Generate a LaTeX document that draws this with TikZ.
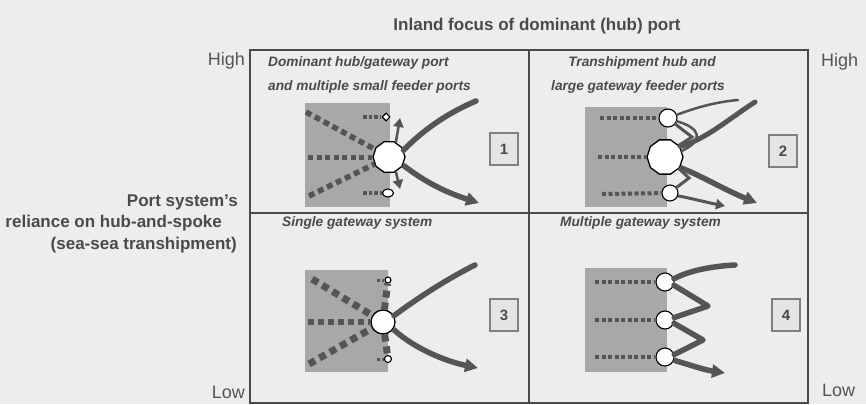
\documentclass[tikz,border=0pt]{standalone}
\usepackage{fontspec}
\setmainfont{Liberation Sans}
\usetikzlibrary{arrows.meta,shapes.geometric}

\definecolor{paper}{HTML}{EDEDED}
\definecolor{shade}{HTML}{A8A8A8}
\definecolor{ink}{HTML}{555555}
\definecolor{rule}{HTML}{4A4A4A}
\definecolor{tagfill}{HTML}{E4E4E4}

\tikzset{
  frame/.style={draw=rule, line width=1.5pt},
  hinterland/.style={fill=shade, draw=none},
  hub/.style={circle, draw=black, fill=white, line width=1.3pt, inner sep=0pt},
  port/.style={circle, draw=black, fill=white, line width=1.1pt, inner sep=0pt},
  spoke/.style={draw=ink, line width=4pt, dash pattern=on 4pt off 2.5pt},
  bigspoke/.style={draw=ink, line width=7pt, dash pattern=on 7pt off 5pt},
  flow/.style={draw=ink, line width=5.5pt, line cap=round},
  thinflow/.style={draw=ink, line width=2.5pt, line cap=round},
  head/.style={-{Triangle[length=13pt,width=13pt]}},
  smallhead/.style={-{Triangle[length=9pt,width=10pt]}},
  tag/.style={draw=gray, fill=tagfill, line width=1.5pt, minimum width=28pt,
    minimum height=32pt, inner sep=0pt, font=\fontsize{15}{15}\selectfont\bfseries, text=rule},
  heading/.style={font=\fontsize{13.7}{14}\selectfont\bfseries\itshape, text=rule, inner sep=0pt},
  scale label/.style={font=\fontsize{18}{18}\selectfont, text=ink, inner sep=0pt},
  axis label/.style={font=\fontsize{17}{17}\selectfont\bfseries, text=rule, inner sep=0pt},
}

\begin{document}
\begin{tikzpicture}[x=1pt,y=-1pt]
% canvas
\fill[paper] (0,0) rectangle (866,404);
\useasboundingbox (0,0) rectangle (866,404);

% axis titles
\node[font=\fontsize{17}{17}\selectfont\bfseries, text=rule, inner sep=0pt] (title) at (537,26) {Inland focus of dominant (hub) port};
\node[axis label, anchor=east] (ya) at (238,202) {Port system's};
\node[axis label, anchor=east] (yb) at (222,223) {reliance on hub-and-spoke};
\node[axis label, anchor=east] (yc) at (237,245) {(sea-sea transhipment)};
\node[scale label, anchor=east] (hl) at (245,61) {High};
\node[scale label, anchor=east] (ll) at (245,392) {Low};
\node[scale label, anchor=west] (hr) at (821,62) {High};
\node[scale label, anchor=west] (lr) at (822,390) {Low};

% hinterland areas
\fill[hinterland] (305,103) rectangle (390,207);
\fill[hinterland] (585,107) rectangle (667,207);
\fill[hinterland] (305,270) rectangle (388,372);
\fill[hinterland] (585,268) rectangle (667,372);

% panel headings
\node[heading, anchor=west] (t1a) at (268,63) {Dominant hub/gateway port};
\node[heading, anchor=west] (t1b) at (268,87) {and multiple small feeder ports};
\node[heading] (t2a) at (642,63) {Transhipment hub and};
\node[heading] (t2b) at (638,87) {large gateway feeder ports};
\node[heading, anchor=west] (t3) at (282,223) {Single gateway system};
\node[heading, anchor=west] (t4) at (560,223) {Multiple gateway system};

% ---------- panel 1: dominant hub with small feeders ----------
\node[regular polygon, regular polygon sides=10, draw=black, fill=white, line width=1.3pt, inner sep=0pt, minimum size=32pt] (h1) at (389,157) {};
\node[diamond, draw=black, fill=white, line width=1.1pt, inner sep=0pt, minimum size=8pt] (f1a) at (386,117) {};
\node[ellipse, draw=black, fill=white, line width=1.1pt, inner sep=0pt, minimum width=11pt, minimum height=8pt] (f1b) at (388,193) {};
\coordinate (s1a) at (306,112);
\coordinate (s1b) at (308,157);
\coordinate (s1c) at (309,196);
\coordinate (s1d) at (363,117);
\coordinate (s1e) at (363,193);
\draw[spoke, line width=5.5pt, dash pattern=on 6pt off 4pt] (s1a) -- (h1);
\draw[spoke, line width=5pt, dash pattern=on 5pt off 3.5pt] (s1b) -- (h1);
\draw[spoke, line width=5.5pt, dash pattern=on 6pt off 4pt] (s1c) -- (h1);
\draw[spoke, line width=3.5pt, dash pattern=on 3.5pt off 2pt] (s1d) -- (f1a);
\draw[spoke, line width=3.5pt, dash pattern=on 3.5pt off 2pt] (s1e) -- (f1b);
\coordinate (e1a) at (476,101);
\coordinate (e1b) at (479,203);
\coordinate (a1a) at (400,118);
\coordinate (a1b) at (400,189);
\draw[flow] (h1.25) .. controls (425,128) and (450,112) .. (e1a);
\draw[flow, head, line cap=butt] (h1.-30) .. controls (425,182) and (445,192) .. (e1b);
\draw[thinflow, smallhead, line cap=butt] (h1.65) -- (a1a);
\draw[thinflow, smallhead, line cap=butt] (h1.-65) -- (a1b);
\node[tag] (n1) at (504,149) {1};

% ---------- panel 2: transhipment hub with large feeders ----------
\node[regular polygon, regular polygon sides=10, draw=black, fill=white, line width=1.3pt, inner sep=0pt, minimum size=36pt] (h2) at (665,157) {};
\node[port, minimum width=18pt, minimum height=16pt] (f2a) at (668,118) {};
\node[port, minimum size=16pt] (f2c) at (670,193) {};
\coordinate (s2a) at (600,118);
\coordinate (s2b) at (598,157);
\coordinate (s2c) at (602,194);
\draw[spoke] (s2a) -- (f2a);
\draw[spoke] (s2b) -- (h2);
\draw[spoke] (s2c) -- (f2c);
\coordinate (e2a) at (738,100);
\coordinate (e2b) at (755,102);
\coordinate (e2c) at (757,203);
\coordinate (e2d) at (725,206);
\coordinate (k2a) at (692,137);
\coordinate (k2b) at (689,178);
\draw[thinflow] (f2a.20) .. controls (695,108) and (715,102) .. (e2a);
\draw[thinflow, line width=3pt] (f2a.-40) -- (k2a) -- (h2.40);
\draw[thinflow, line width=3pt] (h2.-40) -- (k2b) -- (f2c.40);
\draw[thinflow, line width=2.5pt] (f2a.-20) .. controls (700,128) and (705,140) .. (h2.20);
\draw[flow, line width=5pt] (h2.35) .. controls (705,140) and (730,118) .. (e2b);
\draw[flow, head, line cap=butt] (h2.-35) .. controls (700,175) and (725,190) .. (e2c);
\draw[thinflow, line width=3pt, smallhead, line cap=butt] (f2c.-20) .. controls (690,198) and (705,202) .. (e2d);
\node[tag] (n2) at (783,151) {2};

% ---------- panel 3: single gateway ----------
\node[hub, minimum size=24pt] (h3) at (383,322) {};
\node[port, minimum size=6pt] (f3a) at (388,280) {};
\node[port, minimum width=7pt, minimum height=5pt] (f3c) at (388,359) {};
\coordinate (s3a) at (312,279);
\coordinate (s3b) at (308,322);
\coordinate (s3c) at (309,364);
\coordinate (s3d) at (377,280);
\coordinate (s3e) at (377,359);
\draw[bigspoke] (s3a) -- (h3);
\draw[bigspoke, line width=6pt, dash pattern=on 6pt off 4pt] (s3b) -- (h3);
\draw[bigspoke] (s3c) -- (h3);
\draw[bigspoke] (h3) -- (f3a);
\draw[bigspoke] (h3) -- (f3c);
\draw[spoke, line width=3pt, dash pattern=on 3pt off 2pt] (s3d) -- (f3a);
\draw[spoke, line width=3pt, dash pattern=on 3pt off 2pt] (s3e) -- (f3c);
\coordinate (e3a) at (475,265);
\coordinate (e3b) at (478,368);
\draw[flow] (h3.30) .. controls (415,300) and (445,280) .. (e3a);
\draw[flow, head, line cap=butt] (h3.-35) .. controls (410,345) and (440,360) .. (e3b);
\node[tag] (n3) at (504,315) {3};

% ---------- panel 4: multiple gateways ----------
\node[port, minimum size=18pt] (g4a) at (665,282) {};
\node[port, minimum size=18pt] (g4b) at (665,320) {};
\node[port, minimum size=18pt] (g4c) at (665,357) {};
\coordinate (s4a) at (595,282);
\coordinate (s4b) at (595,320);
\coordinate (s4c) at (595,357);
\draw[spoke] (s4a) -- (g4a);
\draw[spoke] (s4b) -- (g4b);
\draw[spoke] (s4c) -- (g4c);
\coordinate (e4a) at (735,265);
\coordinate (k4a) at (708,306);
\coordinate (k4b) at (703,340);
\coordinate (e4b) at (725,373);
\draw[flow] (g4a.20) .. controls (690,270) and (715,266) .. (e4a);
\draw[flow, line join=round] (g4a.-20) -- (k4a) -- (g4b.15);
\draw[flow, line join=round] (g4b.-20) -- (k4b) -- (g4c.15);
\draw[flow, head, line cap=butt] (g4c.-20) .. controls (690,365) and (705,370) .. (e4b);
\node[tag] (n4) at (786,315) {4};

% quadrant frame on top
\draw[frame] (250,50) rectangle (808,403);
\draw[frame] (529,50) -- (529,403);
\draw[frame] (250,213) -- (808,213);
\end{tikzpicture}
\end{document}
